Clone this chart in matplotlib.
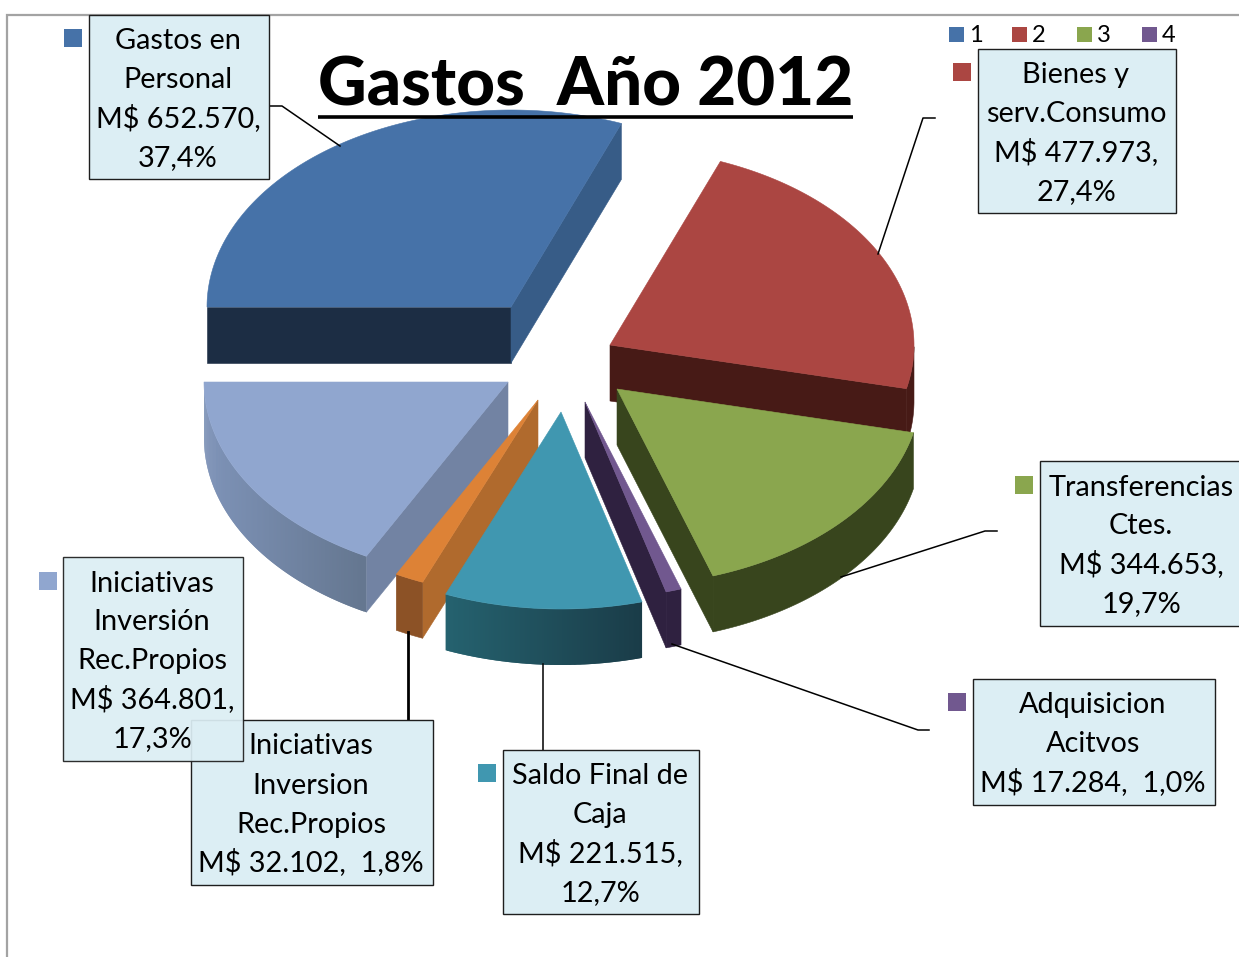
#!/usr/bin/env python3
"""
Exploded 3D pie of 2012 spending, drawn with polygons in pixel coordinates
"""

import matplotlib
matplotlib.use("Agg")
import matplotlib.pyplot as plt
from matplotlib.colors import to_rgb
from matplotlib.patches import Polygon, Rectangle
import numpy as np

plt.rcParams['font.family'] = ['Lato', 'DejaVu Sans']

# Data, clockwise from the left of the pie
categories = ['Gastos en\nPersonal', 'Bienes y\nserv.Consumo', 'Transferencias\nCtes.',
              'Adquisicion\nAcitvos', 'Saldo Final de\nCaja',
              'Iniciativas\nInversion\nRec.Propios', 'Iniciativas\nInversión\nRec.Propios']
values = [652570, 477973, 344653, 17284, 221515, 32102, 364801]
value_labels = ['M$ 652.570,\n37,4%', 'M$ 477.973,\n27,4%', 'M$ 344.653,\n19,7%',
                'M$ 17.284,  1,0%', 'M$ 221.515,\n12,7%', 'M$ 32.102,  1,8%',
                'M$ 364.801,\n17,3%']
legend_labels = ['1', '2', '3', '4']
title = 'Gastos  Año 2012'

# Pie geometry (pixels)
cx, cy = 558, 355
rx, ry = 304, 197
depth = 56
explode_x = [-47, 52, 59, 27, 3, -20, -50]
explode_y = [-48, -10, 34, 47, 57, 45, 27]

# Slice colours
top_colors = ['#4672a8', '#ab4642', '#8aa64e', '#71588f', '#4097b0', '#dd8236', '#90a6cf']
wall_colors = ['#1c2d44', '#471a16', '#38451d', '#2f2140', '#1d4a58', '#b06a2d', '#7283a3']
side_wall = '#375c87'  # the first slice shows two cut faces
rim_left = ['#1c2d44', '#471a16', '#38451d', '#2f2140', '#25626f', '#8c5226', '#7e93b8']
rim_right = ['#1c2d44', '#471a16', '#38451d', '#2f2140', '#1a3c48', '#8c5226', '#64768f']
# painter's order, back to front
draw_order = [0, 1, 6, 2, 3, 5, 4]

# Label boxes: left, top, right, bottom
box_left = [89, 978, 1040, 973, 503, 191, 63]
box_top = [15, 49, 461, 679, 750, 720, 557]
box_right = [269, 1176, 1245, 1215, 699, 433, 243]
box_bottom = [179, 213, 626, 805, 914, 885, 761]
text_x = [178, 1076, 1141, 1093, 600, 311, 152]
key_x = [64, 953, 1015, 948, 478, None, 39]
key_y = [29, 63, 476, 693, 764, None, 572]
box_order = [0, 1, 2, 3, 4, 5, 6]

fig = plt.figure(figsize=(12.39, 9.57), dpi=100)
ax = fig.add_axes([0, 0, 1, 1])
ax.set_xlim(0, 1239)
ax.set_ylim(957, 0)
ax.axis('off')

# Outer frame
ax.plot([7, 7, 1239], [957, 15, 15], color='#a3a3a3', lw=1.6, solid_joinstyle='miter')


def rim_point(ax0, ay0, deg):
    t = np.radians(deg)
    return ax0 + rx * np.cos(t), ay0 - ry * np.sin(t)


def cut_face(px, py, deg, col):
    ex, ey = rim_point(px, py, deg)
    ax.add_patch(Polygon([(px, py), (ex, ey), (ex, ey + depth), (px, py + depth)],
                         closed=True, fc=col, ec=col, lw=0.4, zorder=2))


# Angles come straight from the values
fractions = np.array(values) / sum(values)
edges = 180 - np.concatenate([[0], np.cumsum(fractions)]) * 360

for i in draw_order:
    a0, a1 = edges[i], edges[i + 1]
    px, py = cx + explode_x[i], cy + explode_y[i]
    ts = np.linspace(a0, a1, 160)
    arc = np.array([rim_point(px, py, t) for t in ts])

    # cut faces that look towards the viewer
    if np.cos(np.radians(a0)) < 0:
        cut_face(px, py, a0, wall_colors[i])
    if np.cos(np.radians(a1)) > 0:
        cut_face(px, py, a1, side_wall if i == 0 else wall_colors[i])

    # outer rim, only the part facing the viewer, shaded left to right
    front = [t for t in ts if np.sin(np.radians(t)) < 0.0]
    if len(front) > 2:
        xs = arc[:, 0]
        c_l, c_r = np.array(to_rgb(rim_left[i])), np.array(to_rgb(rim_right[i]))
        pts = np.array([rim_point(px, py, t) for t in front])
        if rim_left[i] == rim_right[i]:
            ax.add_patch(Polygon(np.vstack([pts, pts[::-1] + [0, depth]]), closed=True,
                                 fc=c_l, ec=c_l, lw=0.4, zorder=2))
        else:
            # strips run left to right and overlap the next one, so no seams show
            order = pts[np.argsort(pts[:, 0])]
            for k in range(len(order) - 2):
                p0, p2 = order[k], order[k + 2]
                frac = (p0[0] - xs.min()) / max(xs.max() - xs.min(), 1)
                col = c_l + (c_r - c_l) * frac
                ax.add_patch(Polygon([p0, order[k + 1], p2, p2 + [0, depth], order[k + 1] + [0, depth], p0 + [0, depth]],
                                     closed=True, fc=col, ec='none', zorder=2))

    # top of the slice
    ax.add_patch(Polygon(np.vstack([[px, py], arc]), closed=True,
                         fc=top_colors[i], ec=top_colors[i], lw=0.4, zorder=2))

# Leader lines
ax.plot([269, 282, 340], [106, 106, 146], color='black', lw=1.1, zorder=3)
ax.plot([935, 923, 878], [118, 118, 254], color='black', lw=1.1, zorder=3)
ax.plot([997, 985, 841], [531, 531, 577], color='black', lw=1.1, zorder=3)
ax.plot([929, 918, 672], [730, 730, 644], color='black', lw=1.1, zorder=3)
ax.plot([543, 543], [664, 750], color='black', lw=1.1, zorder=3)
ax.plot([408, 408], [632, 720], color='black', lw=2, zorder=3)

# Label boxes with their keys
LABEL_SIZE = 20.8
PITCH = 39
for i in box_order:
    ax.add_patch(Rectangle((box_left[i], box_top[i]), box_right[i] - box_left[i],
                           box_bottom[i] - box_top[i], fc='#dceef4', ec='#1e1e1e',
                           lw=1.0, alpha=0.93 if i == 6 else 1.0, zorder=4 + i * 0.1))
    if key_x[i] is not None:
        ax.add_patch(Rectangle((key_x[i], key_y[i]), 18, 18, fc=top_colors[i], ec='none', zorder=4))
    lines = (categories[i] + '\n' + value_labels[i]).split('\n')
    mid = (box_top[i] + box_bottom[i]) / 2
    for k, line in enumerate(lines):
        y = mid + (k - (len(lines) - 1) / 2) * PITCH + 10.5
        ax.text(text_x[i], y, line, ha='center', va='baseline', fontsize=LABEL_SIZE,
                color='black', zorder=6)

# Top legend
legend_x = [949, 1012, 1077, 1142]
for i, lab in enumerate(legend_labels):
    ax.add_patch(Rectangle((legend_x[i], 27), 15, 15, fc=top_colors[i], ec='none', zorder=4))
    ax.text(legend_x[i] + 27, 42, lab, ha='center', va='baseline', fontsize=17, color='black', zorder=6)

# Title
ax.text(318, 105, title, ha='left', va='baseline', fontsize=48.4, fontweight='black',
        color='black', zorder=6)
ax.plot([318, 853], [116.5, 116.5], color='black', lw=2.6, solid_capstyle='butt', zorder=6)

fig.savefig('out.png', dpi=100)
plt.close()
